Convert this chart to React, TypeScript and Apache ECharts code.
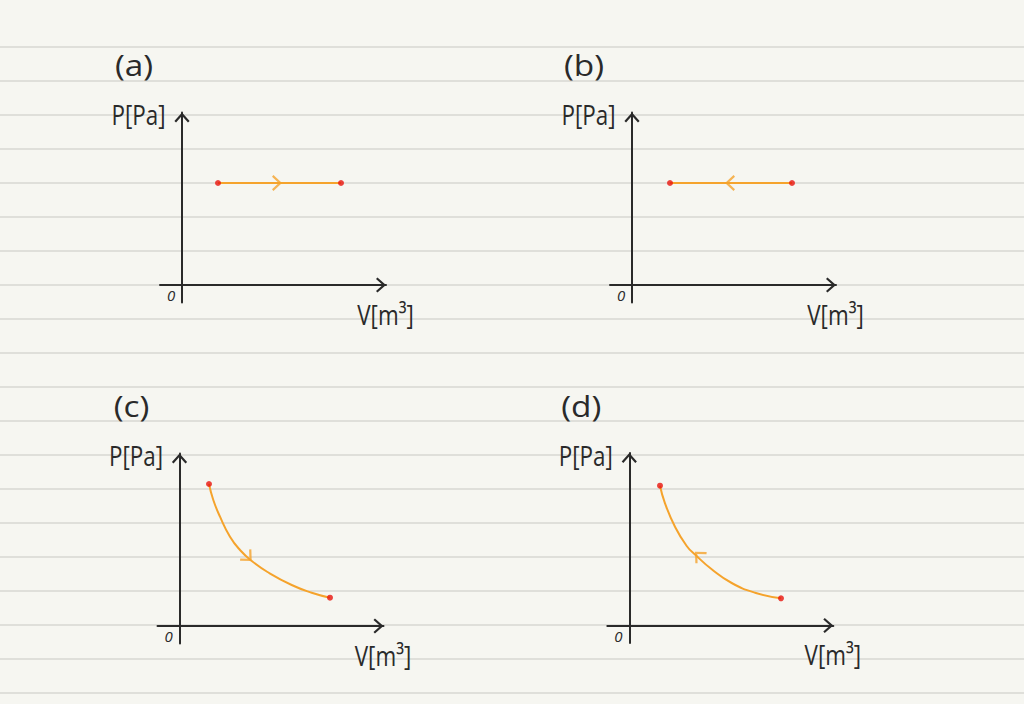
import React, { useEffect, useRef } from "react";
import * as echarts from "echarts";

// ---- texts ----
const panelLetters = ["(a)", "(b)", "(c)", "(d)"];
const yAxisName = "P[Pa]";
const xAxisName = "V[m³]";
const originLabel = "0";

// ---- data (V and P in arbitrary units) ----
// (a) isobaric expansion, (b) isobaric compression
const isobarA: number[][] = [
  [3.6, 10.2],
  [15.9, 10.2],
];
const isobarB: number[][] = [
  [3.8, 10.2],
  [16.0, 10.2],
];
// (c) isothermal expansion, (d) isothermal compression
const curveC: number[][] = [
  [2.95, 14.2],
  [3.38, 12.6],
  [4.05, 10.93],
  [5.05, 8.93],
  [6.05, 7.6],
  [7.22, 6.5],
  [8.8, 5.4],
  [11.22, 4.1],
  [13.22, 3.33],
  [15.05, 2.83],
];
const curveD: number[][] = [
  [3.07, 13.98],
  [3.57, 12.22],
  [4.57, 9.88],
  [5.74, 7.95],
  [6.57, 7.1],
  [8.24, 5.62],
  [10.24, 4.25],
  [12.57, 3.28],
  [15.17, 2.72],
];
// direction markers on each path: position and direction (deg, ccw)
const arrowPoints: number[][] = [
  [9.5, 10.2],
  [9.8, 10.2],
  [6.87, 6.85],
  [6.92, 7.03],
];
const arrowRotations: number[] = [-90, 90, -135, 45];

// axis ranges
const xRange = [-2.2, 20.4];
const yRange = [-1.75, 17.25];

// ---- styles ----
const BG = "#f6f6f1";
const RULE = "#d7d7d2";
const INK = "#2a2a2a";
const ORANGE = "#f5a32c";
const RED = "#e8140e";
const FONT = "'Open Sans', 'DejaVu Sans', sans-serif";

const CHEVRON =
  "path://M8,0 L16,9 L14.28,10.53 L8,3.46 L1.72,10.53 L0,9 Z";

// grid layout (pixel positions of each panel)
const gridLayout = [
  { left: 160, top: 112.5 },
  { left: 610, top: 112.5 },
  { left: 157.5, top: 453.5 },
  { left: 607.3, top: 453 },
];
const GRID_W = 226;
const GRID_H = 190;
const ORIGIN_DX = 22; // pixels from grid left to origin
const ORIGIN_DY = 172.5; // pixels from grid top to origin

export default function App() {
  const ref = useRef<HTMLDivElement>(null);

  useEffect(() => {
    if (!ref.current) return;
    const chart = echarts.init(ref.current, undefined, { renderer: "svg" });

    const paths = [isobarA, isobarB, curveC, curveD];

    const grids = gridLayout.map((g) => ({
      left: g.left,
      top: g.top,
      width: GRID_W,
      height: GRID_H,
      containLabel: false,
    }));

    const axisLine = {
      show: true,
      onZero: true,
      symbol: ["none", CHEVRON],
      symbolSize: [16, 10],
      symbolOffset: [0, -5],
      lineStyle: { color: INK, width: 2 },
    };

    const xAxes = gridLayout.map((_, i) => ({
      type: "value",
      gridIndex: i,
      min: xRange[0],
      max: xRange[1],
      axisLine,
      axisTick: { show: false },
      axisLabel: { show: false },
      splitLine: { show: false },
    }));
    const yAxes = gridLayout.map((_, i) => ({
      type: "value",
      gridIndex: i,
      min: yRange[0],
      max: yRange[1],
      axisLine,
      axisTick: { show: false },
      axisLabel: { show: false },
      splitLine: { show: false },
    }));

    const series: any[] = [];
    paths.forEach((p, i) => {
      series.push({
        type: "line",
        xAxisIndex: i,
        yAxisIndex: i,
        data: p,
        smooth: i >= 2 ? 0.5 : false,
        symbol: "none",
        lineStyle: { color: ORANGE, width: 2 },
        z: 3,
      });
      series.push({
        type: "scatter",
        xAxisIndex: i,
        yAxisIndex: i,
        data: [p[0], p[p.length - 1]],
        symbol: "circle",
        symbolSize: 6,
        itemStyle: { color: RED },
        z: 5,
      });
      series.push({
        type: "scatter",
        xAxisIndex: i,
        yAxisIndex: i,
        data: [arrowPoints[i]],
        symbol: CHEVRON,
        symbolSize: [16, 10],
        symbolRotate: arrowRotations[i],
        itemStyle: { color: ORANGE },
        z: 4,
      });
    });

    const graphic: any[] = [];
    // ruled notebook lines
    for (let y = 47; y < 704; y += 34) {
      graphic.push({
        type: "line",
        z: -10,
        silent: true,
        shape: { x1: 0, y1: y, x2: 1024, y2: y },
        style: { stroke: RULE, lineWidth: 1.3 },
      });
    }
    gridLayout.forEach((g, i) => {
      const ox = g.left + ORIGIN_DX;
      const oy = g.top + ORIGIN_DY;
      const txt = (
        text: string,
        dx: number,
        dy: number,
        size: number,
        sx: number,
        italic = false
      ) => ({
        type: "text",
        x: ox + dx,
        y: oy + dy,
        scaleX: sx,
        z: 10,
        style: {
          text,
          fill: INK,
          fontSize: size,
          fontFamily: FONT,
          fontWeight: 400,
          fontStyle: italic ? "italic" : "normal",
          align: "center",
          verticalAlign: "middle",
        },
      });
      graphic.push(txt(panelLetters[i], -48, -220, 29, 1.15));
      graphic.push(txt(yAxisName, -43.5, -171, 28, 0.8));
      graphic.push(txt(xAxisName, 203.5, 28.5, 28, 0.8));
      graphic.push(txt(originLabel, -11, 10, 15, 1, true));
    });

    chart.setOption({
      animation: false,
      backgroundColor: BG,
      grid: grids,
      xAxis: xAxes,
      yAxis: yAxes,
      series,
      graphic,
    });

    return () => chart.dispose();
  }, []);

  return (
    <div
      ref={ref}
      style={{ position: "absolute", left: 0, top: 0, width: 1024, height: 704 }}
    />
  );
}
